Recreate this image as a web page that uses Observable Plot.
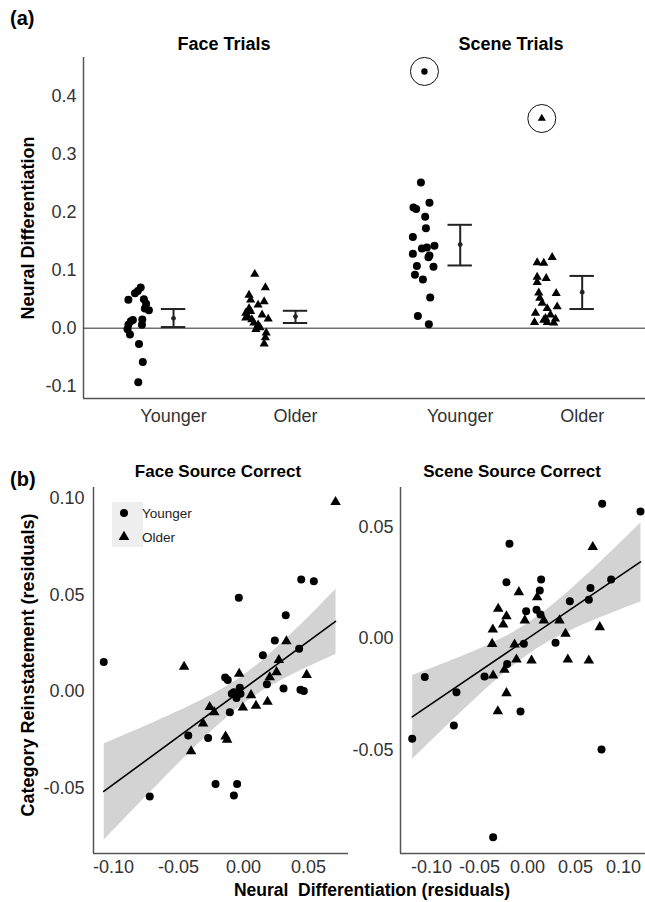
<!DOCTYPE html>
<html><head><meta charset="utf-8">
<script src="https://cdn.jsdelivr.net/npm/d3@7"></script>
<script src="https://cdn.jsdelivr.net/npm/@observablehq/plot@0.6"></script>
<style>
body{margin:0;background:#fff;}
#wrap{position:relative;width:645px;height:902px;overflow:hidden;font-family:"Liberation Sans",Arial,sans-serif;}
#wrap > div{position:absolute;}
#wrap svg{display:block;}
</style></head><body><div id="wrap"></div>
<script>
// ---------- Panel (a) data ----------
const trialTypes = ["Face Trials", "Scene Trials"];
const ageGroups = ["Younger", "Older"];

const faceYoungerND  = [0.049, 0.060, 0.064, 0.070, 0.050, 0.042, 0.031, 0.034, 0.012, 0.006, -0.002, -0.011, 0.015, 0.006, -0.027, -0.058, -0.093, 0.014];
const faceYoungerJit = [-0.370, -0.316, -0.293, -0.269, -0.243, -0.225, -0.202, -0.235, -0.350, -0.370, -0.377, -0.357, -0.256, -0.259, -0.283, -0.252, -0.289, -0.333];

const faceOlderND  = [0.093, 0.070, 0.057, 0.049, 0.046, 0.040, 0.034, 0.026, 0.020, 0.015, 0.016, 0.009, 0.006, -0.002, -0.008, -0.016, -0.027, 0.018, 0.023, 0.001, 0.029];
const faceOlderJit = [-0.334, -0.247, -0.381, -0.368, -0.257, -0.307, -0.381, -0.408, -0.391, -0.358, -0.224, -0.341, -0.307, -0.325, -0.240, -0.247, -0.257, -0.408, -0.274, -0.291, -0.368];

const sceneYoungerND  = [0.251, 0.208, 0.205, 0.216, 0.192, 0.172, 0.157, 0.137, 0.139, 0.142, 0.128, 0.122, 0.125, 0.107, 0.106, 0.092, 0.084, 0.053, 0.021, 0.007];
const sceneYoungerJit = [-0.322, -0.383, -0.361, -0.252, -0.287, -0.281, -0.388, -0.314, -0.273, -0.211, -0.388, -0.260, -0.252, -0.355, -0.219, -0.371, -0.306, -0.246, -0.347, -0.257];

const sceneOlderND  = [0.122, 0.113, 0.112, 0.088, 0.086, 0.079, 0.060, 0.061, 0.052, 0.043, 0.037, 0.034, 0.026, 0.023, 0.017, 0.016, 0.010, 0.010, 0.009, 0.014];
const sceneOlderJit = [-0.246, -0.369, -0.315, -0.369, -0.295, -0.369, -0.213, -0.356, -0.348, -0.328, -0.205, -0.287, -0.383, -0.260, -0.301, -0.219, -0.391, -0.287, -0.233, -0.315];

// circled outliers
const sceneYoungerOutlierND = [0.442], sceneYoungerOutlierJit = [-0.293];
const sceneOlderOutlierND   = [0.361], sceneOlderOutlierJit   = [-0.331];

// group summaries (order: Face-Younger, Face-Older, Scene-Younger, Scene-Older)
const summaryTrial = ["Face Trials", "Face Trials", "Scene Trials", "Scene Trials"];
const summaryAge   = ["Younger", "Older", "Younger", "Older"];
const summaryMean  = [0.017, 0.020, 0.144, 0.062];
const summaryLower = [0.002, 0.009, 0.108, 0.033];
const summaryUpper = [0.033, 0.030, 0.178, 0.090];

const yTicksA = [-0.1, 0.0, 0.1, 0.2, 0.3, 0.4];

// ---------- Panel (b) data: [neural differentiation residual, category reinstatement residual] ----------
const faceSrcYounger = [[-0.1075,0.0152],[-0.0036,0.0485],[0.0444,0.058],[0.0541,0.057],[0.0325,0.0395],[0.0241,0.0264],[0.0428,0.0221],[0.0149,0.0188],[-0.0141,0.0073],[-0.0121,0.006],[0.0180,0.0038],[-0.0028,0.0019],[-0.0074,-0.0004],[0.0308,0.0016],[0.0438,0.0009],[0.0464,0.0002],[-0.0090,-0.0012],[-0.0023,-0.0012],[-0.0054,-0.0033],[-0.0105,-0.0107],[-0.0425,-0.0228],[-0.0272,-0.024],[-0.0215,-0.0478],[-0.0049,-0.0478],[-0.0074,-0.0538],[-0.0721,-0.0543]];
const faceSrcOlder = [[0.0708,0.098],[0.0330,0.026],[0.0272,0.0163],[-0.0457,0.0128],[-0.0033,0.0092],[0.0486,0.0086],[0.0254,0.0100],[0.0202,0.0074],[0.0058,-0.0019],[-0.0260,-0.0080],[-0.0005,-0.0083],[0.0096,-0.0074],[0.0185,-0.0053],[-0.0225,-0.0107],[-0.0311,-0.0165],[-0.0138,-0.0233],[-0.0126,-0.025],[-0.0403,-0.0309]];
const sceneSrcYounger = [[0.0778,0.0604],[0.1177,0.057],[-0.0188,0.0425],[-0.0219,0.0252],[0.0142,0.0265],[0.0871,0.0265],[0.0128,0.0215],[0.0656,0.0227],[0.0441,0.0167],[0.0639,0.0174],[-0.0014,0.0122],[0.0094,0.0129],[0.0135,0.0108],[-0.0038,-0.0024],[0.0292,-0.0019],[-0.0212,-0.0114],[-0.0448,-0.017],[-0.107,-0.0173],[-0.074,-0.0241],[-0.0073,-0.0327],[-0.0767,-0.039],[-0.1201,-0.045],[0.0771,-0.0498],[-0.0358,-0.0891]];
const sceneSrcOlder = [[0.068,0.041],[-0.009,0.0208],[0.0101,0.0185],[-0.0305,0.0133],[-0.0219,0.010],[0.017,0.0081],[-0.0028,0.0081],[-0.0253,0.0063],[0.0333,0.0081],[-0.0361,0.004],[0.0753,0.0051],[0.0396,0.0021],[-0.0368,-0.0024],[-0.0135,-0.0027],[-0.0115,-0.0094],[0.0042,-0.0099],[0.042,-0.0094],[0.0639,-0.0099],[-0.024,-0.014],[-0.0358,-0.0166],[-0.0219,-0.0245],[-0.0309,-0.0326]];

const faceXTicks = [-0.10, -0.05, 0.00, 0.05];
const faceYTicks = [-0.05, 0.00, 0.05, 0.10];
const sceneXTicks = [-0.10, -0.05, 0.00, 0.05, 0.10];
const sceneYTicks = [-0.05, 0.00, 0.05];

// ---------- build ----------
const FONT = "'Liberation Sans', Arial, sans-serif";
const baseStyle = {fontSize: "18px", fontFamily: FONT, color: "#333", background: "transparent", overflow: "visible"};
const wrap = document.getElementById("wrap");
function place(node, left, top) {
  const d = document.createElement("div");
  d.style.left = left + "px"; d.style.top = top + "px";
  d.appendChild(node); wrap.appendChild(d);
}

// category position along x: trial blocks separated by a wider gap
const GAP = 2.35;
const catPos = (trial, age) => trialTypes.indexOf(trial) * GAP + ageGroups.indexOf(age);
function pts(trial, age, vals, jit) {
  return vals.map((v, i) => ({trial, age, value: v, x: catPos(trial, age) + jit[i]}));
}
const circlesA = [...pts("Face Trials", "Younger", faceYoungerND, faceYoungerJit), ...pts("Scene Trials", "Younger", sceneYoungerND, sceneYoungerJit)];
const trianglesA = [...pts("Face Trials", "Older", faceOlderND, faceOlderJit), ...pts("Scene Trials", "Older", sceneOlderND, sceneOlderJit)];
const outCircle = pts("Scene Trials", "Younger", sceneYoungerOutlierND, sceneYoungerOutlierJit);
const outTriangle = pts("Scene Trials", "Older", sceneOlderOutlierND, sceneOlderOutlierJit);
const summary = summaryMean.map((m, i) => ({x: catPos(summaryTrial[i], summaryAge[i]), mean: m, lo: summaryLower[i], hi: summaryUpper[i]}));
const tickPos = summary.map(d => d.x);
const tickLab = new Map(summary.map((d, i) => [d.x, summaryAge[i]]));

const xDomA = [-0.738, 3.869], yDomA = [-0.121, 0.466];
const CAP = 0.1;
const plotA = Plot.plot({
  width: 645, height: 430,
  marginLeft: 83, marginRight: 0, marginTop: 57, marginBottom: 32,
  style: baseStyle,
  x: {domain: xDomA, ticks: tickPos, tickFormat: d => tickLab.get(d), tickSize: 0, tickPadding: 11, label: null},
  y: {domain: yDomA, ticks: yTicksA, tickFormat: d => d.toFixed(1), tickSize: 0, tickPadding: 7, label: null},
  marks: [
    Plot.ruleY([0], {stroke: "#707070", strokeWidth: 1.6}),
    Plot.ruleX([xDomA[0]], {stroke: "#555", strokeWidth: 1.5}),
    Plot.ruleY([yDomA[0]], {stroke: "#555", strokeWidth: 1.5}),
    Plot.dot(circlesA, {x: "x", y: "value", r: 4, fill: "black", stroke: "none", symbol: "circle"}),
    Plot.dot(trianglesA, {x: "x", y: "value", r: 3.4, fill: "black", stroke: "none", symbol: "triangle"}),
    Plot.ruleX(summary, {x: "x", y1: "lo", y2: "hi", stroke: "#222", strokeWidth: 2}),
    Plot.ruleY(summary, {y: "hi", x1: d => d.x - CAP, x2: d => d.x + CAP, stroke: "#222", strokeWidth: 2}),
    Plot.ruleY(summary, {y: "lo", x1: d => d.x - CAP, x2: d => d.x + CAP, stroke: "#222", strokeWidth: 2}),
    Plot.dot(summary, {x: "x", y: "mean", r: 2.4, fill: "#222", stroke: "none"}),
    Plot.dot(outCircle, {x: "x", y: "value", r: 3.2, fill: "black", stroke: "none", symbol: "circle"}),
    Plot.dot(outTriangle, {x: "x", y: "value", r: 3, fill: "black", stroke: "none", symbol: "triangle"}),
    Plot.dot([...outCircle, ...outTriangle], {x: "x", y: "value", r: 14, fill: "none", stroke: "#111", strokeWidth: 1})
  ]
});
place(plotA, 0, 0);

function scatter(younger, older, opts) {
  const yd = younger.map(([x, y]) => ({x, y, age: "Younger"}));
  const od = older.map(([x, y]) => ({x, y, age: "Older"}));
  const all = [...yd, ...od];
  return Plot.plot({
    width: opts.width, height: 442,
    marginLeft: opts.marginLeft, marginRight: 0, marginTop: 27, marginBottom: 49,
    style: baseStyle,
    x: {domain: opts.xDom, ticks: opts.xTicks, tickFormat: d => d.toFixed(2), tickSize: 0, tickPadding: 7, label: null},
    y: {domain: opts.yDom, ticks: opts.yTicks, tickFormat: d => d.toFixed(2), tickSize: 0, tickPadding: opts.yPad, label: null},
    marks: [
      Plot.ruleX([opts.xDom[0]], {stroke: "#555", strokeWidth: 1.5}),
      Plot.ruleY([opts.yDom[0]], {stroke: "#555", strokeWidth: 1.5}),
      Plot.linearRegressionY(all, {x: "x", y: "y", stroke: "black", strokeWidth: 1.6, fill: "#d3d3d3", fillOpacity: 1, ci: 0.95}),
      Plot.dot(yd, {x: "x", y: "y", r: 4, fill: "black", stroke: "none", symbol: "circle"}),
      Plot.dot(od, {x: "x", y: "y", r: 3.9, fill: "black", stroke: "none", symbol: "triangle"})
    ]
  });
}
place(scatter(faceSrcYounger, faceSrcOlder, {width: 348, marginLeft: 93, xDom: [-0.11538, 0.08077], yDom: [-0.08381, 0.10554], xTicks: faceXTicks, yTicks: faceYTicks, yPad: 9}), 0, 460);
place(scatter(sceneSrcYounger, sceneSrcOlder, {width: 297, marginLeft: 52, xDom: [-0.13229, 0.12292], yDom: [-0.09641, 0.06771], xTicks: sceneXTicks, yTicks: sceneYTicks, yPad: 7}), 348, 460);

// ---------- titles, axis titles, legend (overlay) ----------
const NS = "http://www.w3.org/2000/svg";
const ov = document.createElementNS(NS, "svg");
ov.setAttribute("width", 645); ov.setAttribute("height", 902);
ov.style.fontFamily = FONT;
const ovDiv = document.createElement("div");
ovDiv.style.left = "0px"; ovDiv.style.top = "0px"; ovDiv.style.pointerEvents = "none";
ovDiv.appendChild(ov); wrap.appendChild(ovDiv);
function txt(s, x, y, o = {}) {
  const t = document.createElementNS(NS, "text");
  t.textContent = s;
  t.setAttribute("x", x); t.setAttribute("y", y);
  t.setAttribute("font-size", o.size || 18);
  t.setAttribute("font-weight", o.weight || "bold");
  t.setAttribute("fill", o.fill || "#000");
  t.setAttribute("text-anchor", o.anchor || "middle");
  if (o.rotate) t.setAttribute("transform", `rotate(-90 ${x} ${y})`);
  if (o.baseline) t.setAttribute("dominant-baseline", o.baseline);
  t.setAttribute("xml:space", "preserve");
  t.style.whiteSpace = "pre";
  ov.appendChild(t);
}
txt("(a)", 10, 25, {size: 20, anchor: "start"});
txt("Face Trials", 224, 50);
txt("Scene Trials", 511, 50);
txt("Neural Differentiation", 28, 228, {rotate: true, baseline: "central"});
txt("(b)", 10, 486, {size: 20, anchor: "start"});
txt("Face Source Correct", 218, 477, {size: 17});
txt("Scene Source Correct", 512, 477, {size: 17});
txt("Category Reinstatement (residuals)", 28, 665, {rotate: true, baseline: "central"});
txt("Neural  Differentiation (residuals)", 372, 896, {size: 17.5});

// legend
const lg = document.createElementNS(NS, "rect");
lg.setAttribute("x", 112); lg.setAttribute("y", 502); lg.setAttribute("width", 31); lg.setAttribute("height", 45);
lg.setAttribute("fill", "#eeeeee");
ov.appendChild(lg);
[["Younger", d3.symbolCircle, 513], ["Older", d3.symbolTriangle, 537]].forEach(([lab, sym, y]) => {
  const p = document.createElementNS(NS, "path");
  p.setAttribute("d", d3.symbol(sym, Math.PI * 16)());
  p.setAttribute("transform", `translate(124,${y})`);
  p.setAttribute("fill", "black");
  ov.appendChild(p);
  txt(lab, 142, y, {size: 13.5, weight: "normal", anchor: "start", baseline: "central", fill: "#222"});
});
</script></body></html>
